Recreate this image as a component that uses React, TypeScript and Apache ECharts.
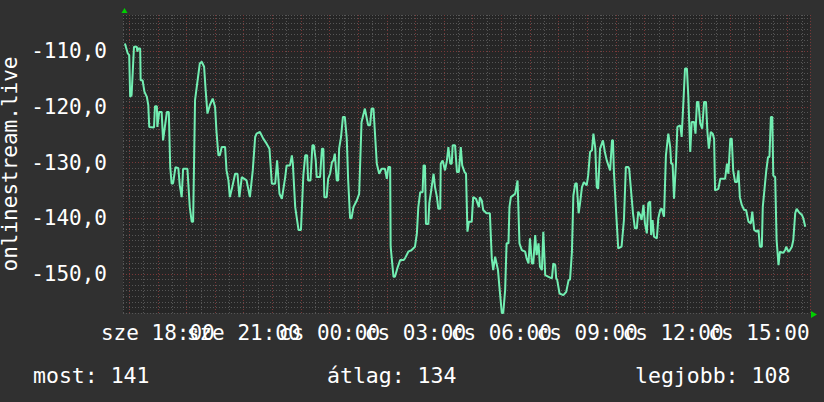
import React, { useEffect, useRef } from "react";
import * as echarts from "echarts";

// Time axis: minutes since midnight of the first day (sze = Wednesday)
const START_MINUTE = 16 * 60 + 47; // 16:47
const SPAN_MINUTES = 24 * 60;

// Sample times, minutes after START_MINUTE
const minutes = [
  4, 10, 13, 15, 18, 23, 29, 30, 32, 36, 37, 41, 45, 50, 53, 55, 65, 67, 71, 72,
  76, 81, 84, 92, 96, 99, 102, 105, 110, 116, 119, 123, 126, 135, 140, 144, 147, 151, 161, 165,
  170, 173, 177, 182, 188, 193, 196, 200, 203, 207, 214, 217, 221, 224, 229, 235, 240, 244, 249, 259,
  266, 272, 277, 280, 287, 294, 301, 307, 312, 319, 323, 328, 333, 340, 343, 350, 354, 356, 361, 364,
  368, 373, 378, 382, 386, 388, 393, 397, 400, 404, 406, 413, 417, 420, 422, 427, 430, 434, 438, 441,
  444, 448, 451, 453, 457, 461, 465, 469, 472, 476, 479, 483, 490, 495, 500, 507, 511, 514, 518, 521,
  525, 528, 532, 537, 542, 549, 553, 556, 560, 561, 567, 570, 575, 581, 588, 591, 598, 605, 612, 616,
  619, 623, 628, 630, 633, 635, 640, 642, 646, 651, 654, 658, 661, 665, 666, 670, 675, 679, 682, 686,
  689, 691, 696, 700, 704, 708, 711, 716, 719, 722, 725, 731, 734, 740, 746, 748, 752, 755, 762, 769,
  773, 776, 780, 786, 789, 794, 797, 801, 804, 808, 810, 813, 822, 827, 831, 836, 843, 846, 850, 853,
  857, 860, 864, 867, 871, 874, 878, 881, 885, 892, 899, 902, 906, 908, 910, 915, 923, 929, 934, 937,
  941, 944, 948, 951, 955, 958, 962, 966, 972, 975, 979, 983, 986, 990, 993, 996, 1000, 1006, 1010, 1014,
  1021, 1025, 1027, 1029, 1034, 1038, 1045, 1050, 1054, 1059, 1061, 1069, 1073, 1077, 1080, 1084, 1087, 1091, 1094, 1098,
  1101, 1105, 1107, 1110, 1113, 1119, 1122, 1126, 1129, 1134, 1138, 1143, 1147, 1149, 1152, 1155, 1159, 1162, 1168, 1171,
  1175, 1178, 1182, 1185, 1189, 1192, 1197, 1200, 1203, 1206, 1210, 1214, 1218, 1222, 1225, 1228, 1232, 1236, 1239, 1241,
  1248, 1252, 1262, 1266, 1269, 1273, 1276, 1279, 1283, 1287, 1290, 1293, 1297, 1302, 1306, 1311, 1316, 1319, 1323, 1328,
  1332, 1335, 1339, 1341, 1348, 1352, 1355, 1358, 1361, 1363, 1367, 1370, 1374, 1377, 1384, 1388, 1390, 1395, 1398, 1402,
  1405, 1409, 1412, 1416, 1419, 1423, 1426, 1430,
];

const values = [
  -108.6, -110.4, -110.7, -118.2, -117.9, -109.2, -109.2, -110.1, -109.5, -109.5, -115.2, -115.2, -117.3, -118.2, -119.7, -123.6, -123.7, -119.9, -119.9, -123.6,
  -120.9, -120.9, -126.0, -120.9, -120.9, -130.8, -133.8, -133.7, -130.8, -131.0, -134.1, -136.2, -131.1, -131.1, -138.0, -140.6, -140.6, -118.8, -112.2, -111.9,
  -112.8, -116.7, -121.2, -119.7, -118.5, -120.0, -124.5, -128.7, -128.7, -127.2, -127.2, -131.4, -133.2, -136.2, -134.4, -132.0, -132.0, -136.2, -132.6, -133.2,
  -136.2, -131.4, -125.4, -124.8, -124.5, -125.7, -126.6, -127.5, -133.8, -133.8, -129.6, -135.6, -136.5, -132.6, -130.5, -130.5, -128.7, -130.2, -138.0, -139.8,
  -142.1, -142.1, -132.3, -128.7, -128.7, -133.2, -133.2, -126.9, -126.9, -129.6, -132.6, -132.6, -127.5, -127.5, -136.2, -136.2, -132.9, -132.0, -129.9, -129.6,
  -128.4, -133.2, -133.2, -127.5, -125.4, -121.8, -121.8, -125.7, -133.2, -140.0, -140.0, -138.0, -136.8, -135.6, -122.7, -120.3, -122.1, -123.3, -123.3, -120.3,
  -120.3, -124.5, -130.2, -132.0, -131.1, -131.1, -132.9, -130.8, -130.8, -145.1, -150.5, -150.5, -149.0, -147.5, -147.5, -147.2, -146.0, -145.7, -145.1, -142.7,
  -138.0, -135.3, -135.3, -130.5, -130.5, -141.0, -141.0, -137.3, -135.0, -132.0, -134.4, -136.2, -138.3, -138.3, -130.2, -129.6, -131.4, -129.6, -127.2, -130.2,
  -130.2, -126.9, -126.9, -131.7, -131.7, -127.2, -130.5, -131.7, -132.0, -142.4, -140.6, -140.6, -136.2, -136.5, -138.0, -136.2, -136.8, -138.5, -139.1, -139.1,
  -147.2, -149.3, -146.9, -149.3, -152.3, -157.0, -157.0, -152.9, -144.5, -144.5, -138.0, -136.2, -135.6, -133.2, -144.5, -145.7, -146.0, -147.2, -148.1, -143.6,
  -148.1, -148.1, -143.0, -146.6, -144.5, -148.7, -149.3, -142.4, -150.2, -150.5, -150.8, -148.1, -148.4, -150.8, -151.0, -153.5, -153.8, -153.2, -151.1, -151.0,
  -146.0, -135.9, -133.8, -133.7, -139.1, -137.3, -134.4, -133.5, -134.1, -132.3, -128.1, -127.8, -124.8, -127.5, -134.4, -134.7, -127.5, -126.0, -128.1, -129.6,
  -131.4, -126.0, -126.0, -131.7, -139.4, -145.4, -145.1, -140.3, -130.8, -130.8, -131.1, -139.1, -141.8, -141.8, -138.8, -139.4, -140.3, -137.6, -140.9, -142.7,
  -137.3, -137.0, -143.0, -140.3, -143.3, -143.6, -140.0, -138.5, -138.2, -139.7, -128.7, -124.8, -127.2, -130.2, -130.2, -136.5, -130.2, -123.6, -123.3, -125.4,
  -118.5, -113.1, -113.1, -118.2, -128.1, -122.7, -122.7, -124.8, -119.1, -119.1, -123.0, -123.9, -119.1, -119.1, -124.5, -127.5, -124.5, -124.8, -125.7, -135.0,
  -134.7, -132.9, -132.9, -130.2, -132.0, -125.7, -125.7, -131.4, -133.5, -133.5, -131.4, -136.2, -137.6, -138.5, -138.5, -140.6, -140.9, -138.8, -142.1, -142.4,
  -142.1, -145.1, -145.1, -138.0, -131.7, -129.0, -129.0, -121.8, -121.8, -132.3, -132.6, -143.9, -148.4, -146.0, -146.2, -145.7, -145.1, -146.0, -145.7, -145.1,
  -143.9, -139.1, -138.3, -138.8, -139.1, -139.4, -140.0, -141.5,
];

const Y_MIN = -157;
const Y_MAX = -103.5;
const dayNames = ["sze", "cs"];
const legendLabels = ["most: 141", "átlag: 134", "legjobb: 108"];
const axisName = "onlinestream.live";

const FONT = "'DejaVu Sans Mono', monospace";
const BG = "#303030";
const PLOT_BG = "#262626";
const MINOR = "#565656";
const MAJOR = "#7a3838";
const LINE = "#72eeb2";
const TEXT = "#ffffff";

export default function App() {
  const ref = useRef<HTMLDivElement>(null);

  useEffect(() => {
    document.body.style.margin = "0";
    document.body.style.background = BG;
    const chart = echarts.init(ref.current!, null, { renderer: "svg" });

    const data = minutes.map((m, i) => [START_MINUTE + m, values[i]]);

    const yColors: string[] = [];
    for (let i = 0; i < 10; i++) yColors.push(i === 7 ? MAJOR : MINOR);

    const pad = (n: number) => (n < 10 ? "0" + n : "" + n);

    chart.setOption({
      animation: false,
      backgroundColor: BG,
      grid: {
        left: 123,
        right: 14,
        top: 15,
        bottom: 89,
        show: true,
        backgroundColor: PLOT_BG,
        borderWidth: 0,
        containLabel: false,
        outerBoundsMode: "none",
      },
      xAxis: {
        type: "value",
        min: START_MINUTE,
        max: START_MINUTE + SPAN_MINUTES,
        splitNumber: 48,
        minInterval: 30,
        maxInterval: 30,
        axisLine: { show: false },
        axisTick: { show: false },
        splitLine: {
          show: true,
          lineStyle: { color: [MINOR, MAJOR], width: 1, type: [1, 2] },
        },
        axisLabel: {
          color: TEXT,
          fontFamily: FONT,
          fontSize: 21,
          margin: 9,
          hideOverlap: false,
          showMinLabel: true,
          showMaxLabel: true,
          formatter: (v: number) => {
            if (Math.abs(v % 180) > 0.001) return "";
            const day = v < 1440 ? dayNames[0] : dayNames[1];
            const h = Math.round(v / 60) % 24;
            return day + " " + pad(h) + ":00";
          },
        },
      },
      yAxis: {
        type: "value",
        min: Y_MIN,
        max: Y_MAX,
        interval: 1,
        name: axisName,
        nameLocation: "middle",
        nameRotate: 90,
        nameGap: 95,
        nameTextStyle: { color: TEXT, fontFamily: FONT, fontSize: 21 },
        axisLine: { show: false },
        axisTick: { show: false },
        splitLine: {
          show: true,
          lineStyle: { color: yColors, width: 1, type: [1, 2] },
        },
        axisLabel: {
          color: TEXT,
          fontFamily: FONT,
          fontSize: 21,
          margin: 16,
          formatter: (v: number) =>
            Math.abs(v % 10) < 0.001 ? v.toFixed(1).replace(".", ",") : "",
        },
      },
      series: [
        {
          type: "line",
          data,
          showSymbol: false,
          symbol: "none",
          lineStyle: { color: LINE, width: 2 },
          clip: true,
          z: 5,
        },
      ],
      graphic: [
        {
          type: "polygon",
          shape: { points: [[121.5, 13], [127.5, 13], [124.5, 8]] },
          style: { fill: "#00d000" },
          z: 10,
        },
        {
          type: "polygon",
          shape: { points: [[811, 311], [811, 318], [817, 314.5]] },
          style: { fill: "#00d000" },
          z: 10,
        },
        {
          type: "text",
          x: 33,
          y: 375,
          style: {
            text: legendLabels[0],
            fill: TEXT,
            font: "21.5px " + FONT,
            textVerticalAlign: "middle",
          },
        },
        {
          type: "text",
          x: 327,
          y: 375,
          style: {
            text: legendLabels[1],
            fill: TEXT,
            font: "21.5px " + FONT,
            textVerticalAlign: "middle",
          },
        },
        {
          type: "text",
          x: 635,
          y: 375,
          style: {
            text: legendLabels[2],
            fill: TEXT,
            font: "21.5px " + FONT,
            textVerticalAlign: "middle",
          },
        },
      ],
    });

    return () => chart.dispose();
  }, []);

  return <div ref={ref} style={{ width: 824, height: 402 }} />;
}
